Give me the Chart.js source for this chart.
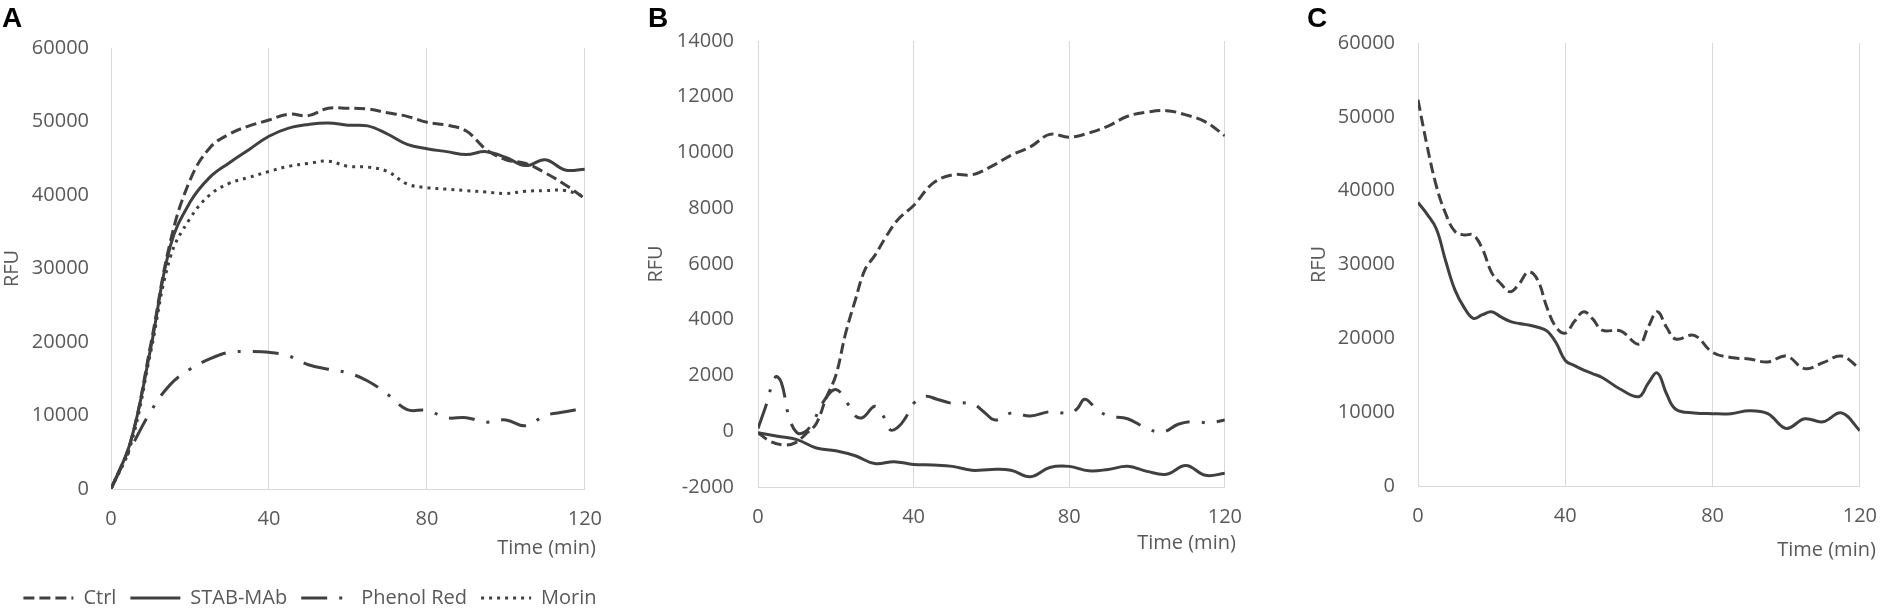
<!DOCTYPE html>
<html>
<head>
<meta charset="utf-8">
<script src="https://cdn.jsdelivr.net/npm/chart.js@4.4.1/dist/chart.umd.min.js"></script>
<style>
  body { margin: 0; background: #fff; width: 1895px; height: 612px; position: relative; overflow: hidden; }
  .panel { position: absolute; top: 0; height: 612px; }
  .letter { position: absolute; top: 4px; font: bold 28px "Liberation Sans", Arial, sans-serif; line-height: 28px; color: #000; }
</style>
</head>
<body>
<div class="panel" style="left:0;width:620px"><canvas id="chartA"></canvas></div>
<div class="panel" style="left:640px;width:620px"><canvas id="chartB"></canvas></div>
<div class="panel" style="left:1300px;width:595px"><canvas id="chartC"></canvas></div>
<div class="letter" style="left:2px">A</div>
<div class="letter" style="left:648px">B</div>
<div class="letter" style="left:1307px">C</div>
<script>
// Dados (tempo em minutos, RFU)
const seriesNames = ['Ctrl', 'STAB-MAb', 'Phenol Red', 'Morin'];
const xTicks = [0, 40, 80, 120];

// Painel A
const timeA = [0, 5, 10, 15, 20, 25, 30, 35, 40, 45, 50, 55, 60, 65, 70, 75, 80, 85, 90, 95, 100, 105, 110, 115, 120];
const ctrlA = [0, 6500, 19500, 33600, 42000, 46400, 48300, 49400, 50200, 51000, 50800, 51800, 51800, 51700, 51200, 50700, 49900, 49500, 48700, 46200, 44800, 44300, 43000, 41400, 39500];
const stabA = [0, 6500, 19000, 33000, 39000, 42400, 44400, 46200, 48000, 49100, 49600, 49800, 49500, 49400, 48300, 46900, 46300, 45900, 45500, 45900, 45100, 44000, 44800, 43400, 43500];
const phenolA = [0, 5500, 10500, 14200, 16300, 17700, 18600, 18700, 18600, 18100, 16900, 16300, 15800, 14700, 12900, 10800, 10700, 9700, 9700, 9100, 9400, 8600, 10000, 10500, 11000];
const morinA = [0, 6000, 18500, 31500, 36800, 40000, 41600, 42400, 43200, 43900, 44300, 44600, 43900, 43800, 43200, 41500, 41000, 40800, 40600, 40400, 40200, 40500, 40600, 40600, 39800];

// Painel B
const timeCtrlB = [0, 3, 6.5, 9.5, 12.5, 15, 17.5, 20, 22.5, 25, 27.5, 30, 33, 36, 40, 45, 50, 55, 60, 65, 70, 75, 80, 85, 90, 95, 100, 105, 110, 115, 120];
const ctrlB = [-50, -350, -490, -420, -70, 280, 1190, 2000, 3500, 4700, 5800, 6300, 7000, 7600, 8100, 8900, 9200, 9200, 9500, 9900, 10200, 10650, 10550, 10700, 10950, 11300, 11450, 11500, 11350, 11100, 10600];
const timeStabB = [0, 5, 10, 15, 20, 25, 30, 35, 40, 45, 50, 55, 60, 65, 70, 75, 80, 85, 90, 95, 100, 105, 110, 115, 120];
const stabB = [-50, -180, -300, -600, -700, -880, -1160, -1090, -1190, -1210, -1260, -1400, -1370, -1400, -1630, -1300, -1260, -1420, -1370, -1260, -1440, -1540, -1230, -1580, -1510];
const timePhenolB = [0, 2, 4.5, 6, 8, 10, 12, 14, 17, 20, 23, 25, 27, 30, 32, 34, 36, 38, 40, 43, 46, 50, 55, 58, 61, 65, 70, 75, 80, 82, 84, 87, 90, 95, 100, 104, 108, 112, 116, 120];
const phenolB = [100, 900, 1950, 1750, 500, -50, -30, 300, 1100, 1500, 1000, 550, 500, 900, 600, 50, 150, 500, 1000, 1250, 1150, 1000, 1000, 700, 400, 650, 550, 700, 650, 800, 1150, 800, 550, 450, 100, -30, 250, 350, 300, 400];

// Painel C
const timeC = [0, 2.5, 5, 7.5, 10, 12.5, 15, 17.5, 20, 22.5, 25, 27.5, 30, 32.5, 35, 37.5, 40, 42.5, 45, 47.5, 50, 55, 60, 62.5, 65, 67.5, 70, 75, 80, 85, 90, 95, 100, 105, 110, 115, 120];
const ctrlC = [52300, 46000, 40600, 36900, 34500, 34000, 34000, 32100, 28900, 27400, 26300, 27400, 29000, 27900, 24200, 21500, 20700, 22300, 23600, 22600, 21100, 21000, 19200, 21500, 23600, 21500, 19900, 20400, 18100, 17400, 17200, 16800, 17600, 15900, 16700, 17600, 15900];
const stabC = [38400, 36800, 34800, 30500, 26600, 24200, 22700, 23200, 23600, 22900, 22300, 22000, 21800, 21500, 21000, 19400, 17000, 16300, 15700, 15200, 14700, 13100, 12100, 13900, 15300, 12500, 10400, 9900, 9800, 9800, 10200, 9800, 7800, 9100, 8700, 9900, 7500];

const lineColor = 'rgb(64, 64, 64)';
const textColor = '#595959';
const gridColor = '#d9d9d9';
const fontFamily = '"Open Sans", sans-serif';

const styles = {
    'Ctrl': { borderDash: [11, 5] },
    'STAB-MAb': { borderDash: [] },
    'Phenol Red': { borderDash: [26, 12, 3, 12] },
    'Morin': { borderDash: [3, 5] }
};

function pairs(xs, ys) {
    return xs.map((x, i) => ({ x: x, y: ys[i] }));
}

function makeDataset(name, xs, ys) {
    return {
        label: name,
        data: pairs(xs, ys),
        borderColor: lineColor,
        backgroundColor: lineColor,
        borderWidth: 3,
        borderDash: styles[name].borderDash,
        borderCapStyle: 'butt',
        pointRadius: 0,
        tension: 0.4,
        fill: false
    };
}

// Título do eixo X desenhado um pouco à direita da área do gráfico
const timeTitle = {
    id: 'timeTitle',
    afterDraw(chart, args, opts) {
        const c = chart.ctx;
        c.save();
        c.font = '20px ' + fontFamily;
        c.fillStyle = textColor;
        c.textAlign = 'right';
        c.textBaseline = 'middle';
        c.fillText('Time (min)', chart.chartArea.right + opts.dx, chart.chartArea.bottom + opts.dy);
        c.restore();
    }
};

function makeChart(id, datasets, cfg) {
    const scales = {
        x: {
            type: 'linear',
            min: 0,
            max: 120,
            afterBuildTicks: (scale) => { scale.ticks = xTicks.map(v => ({ value: v })); },
            afterFit: (scale) => { scale.height = cfg.xHeight; },
            grid: { color: gridColor, lineWidth: 1, drawTicks: false },
            border: { display: true, color: gridColor, width: 1 },
            ticks: { color: textColor, font: { family: fontFamily, size: 20 }, padding: 18, maxRotation: 0, callback: (v) => String(v) }
        },
        y: {
            min: cfg.yMin,
            max: cfg.yMax,
            afterFit: (scale) => { scale.width = cfg.yWidth; },
            grid: { display: false, drawTicks: false },
            border: { display: false },
            ticks: { stepSize: cfg.yStep, color: textColor, font: { family: fontFamily, size: 20 }, padding: cfg.yPad, callback: (v) => String(v) },
            title: { display: true, text: 'RFU', color: textColor, font: { family: fontFamily, size: 20 }, padding: { top: cfg.rfuPad, bottom: 0 } }
        }
    };
    if (cfg.rightGap) {
        // eixo vazio à direita só para reservar espaço
        scales.gap = {
            position: 'right',
            afterFit: (scale) => { scale.width = cfg.rightGap; },
            grid: { display: false, drawTicks: false },
            border: { display: false },
            ticks: { display: false }
        };
    }
    return new Chart(document.getElementById(id), {
        type: 'line',
        data: { datasets: datasets },
        plugins: [timeTitle],
        options: {
            responsive: true,
            maintainAspectRatio: false,
            animation: false,
            layout: { padding: cfg.padding },
            scales: scales,
            plugins: {
                legend: cfg.legend || { display: false },
                tooltip: { enabled: false },
                timeTitle: cfg.title
            }
        }
    });
}

makeChart('chartA', [
    makeDataset('Ctrl', timeA, ctrlA),
    makeDataset('STAB-MAb', timeA, stabA),
    makeDataset('Phenol Red', timeA, phenolA),
    makeDataset('Morin', timeA, morinA)
], {
    padding: { top: 48, right: 0, bottom: 0, left: 0 },
    rightGap: 26,
    xHeight: 85, yWidth: 111, yMin: 0, yMax: 60000, yStep: 10000, yPad: 22, rfuPad: 0,
    title: { dx: 11, dy: 59 },
    legend: {
        display: true,
        position: 'bottom',
        maxHeight: 38,
        labels: {
            usePointStyle: true,
            pointStyle: 'line',
            pointStyleWidth: 50,
            padding: 14,
            color: textColor,
            font: { family: fontFamily, size: 20 },
            generateLabels: (chart) => chart.data.datasets.map((ds, i) => ({
                text: ds.label,
                fillStyle: lineColor,
                strokeStyle: lineColor,
                fontColor: textColor,
                lineWidth: 3,
                lineDash: ds.borderDash,
                lineCap: 'butt',
                pointStyle: 'line',
                hidden: false,
                datasetIndex: i
            }))
        }
    }
});

makeChart('chartB', [
    makeDataset('Ctrl', timeCtrlB, ctrlB),
    makeDataset('STAB-MAb', timeStabB, stabB),
    makeDataset('Phenol Red', timePhenolB, phenolB)
], {
    padding: { top: 41, right: 21, bottom: 0, left: 0 },
    xHeight: 125, yWidth: 118, yMin: -2000, yMax: 14000, yStep: 2000, yPad: 24, rfuPad: 4,
    title: { dx: 11, dy: 56 }
});

makeChart('chartC', [
    makeDataset('Ctrl', timeC, ctrlC),
    makeDataset('STAB-MAb', timeC, stabC)
], {
    padding: { top: 43, right: 16, bottom: 0, left: 0 },
    xHeight: 126, yWidth: 118, yMin: 0, yMax: 60000, yStep: 10000, yPad: 23, rfuPad: 7,
    title: { dx: 16, dy: 64 }
});
</script>
</body>
</html>
